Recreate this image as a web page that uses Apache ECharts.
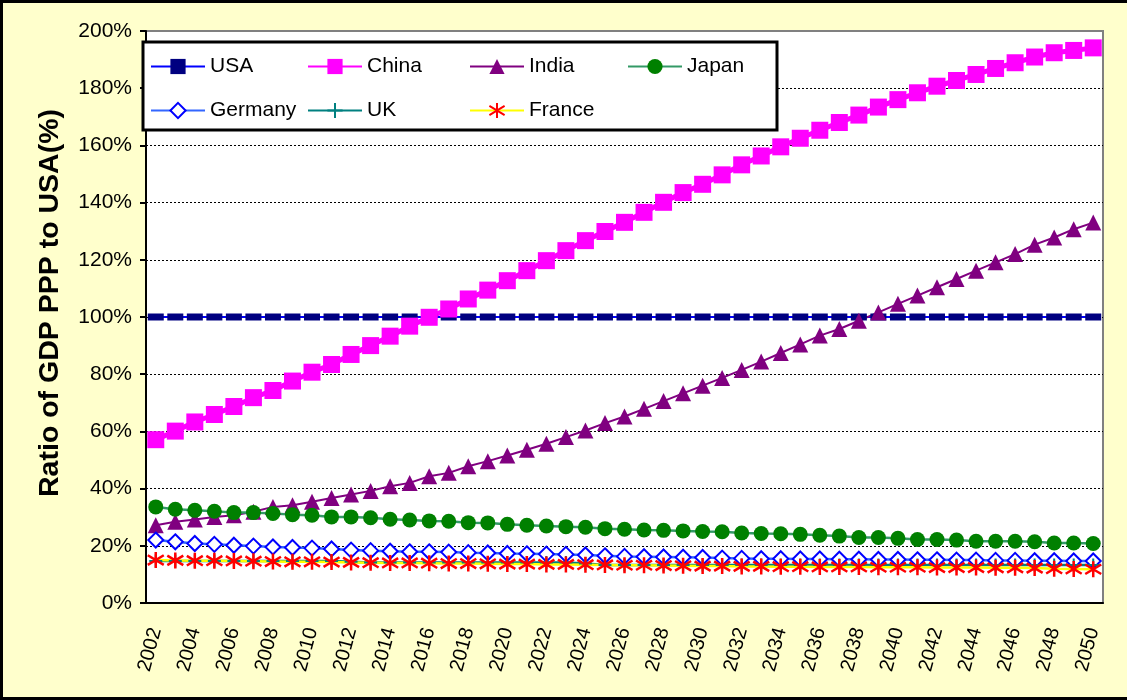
<!DOCTYPE html>
<html lang="en">
<head>
    <meta charset="UTF-8">
    <title>GDP PPP ratio to USA</title>
    <script src="https://cdn.jsdelivr.net/npm/echarts@6/dist/echarts.min.js"></script>
    <style>
        html, body { margin: 0; padding: 0; background: #FFFFCC; }
        #main { width: 1127px; height: 700px; }
    </style>
</head>
<body>
<div id="main"></div>
<script>
    // years on the x axis
    var years = ['2002', '2003', '2004', '2005', '2006', '2007', '2008', '2009', '2010', '2011',
        '2012', '2013', '2014', '2015', '2016', '2017', '2018', '2019', '2020', '2021',
        '2022', '2023', '2024', '2025', '2026', '2027', '2028', '2029', '2030', '2031',
        '2032', '2033', '2034', '2035', '2036', '2037', '2038', '2039', '2040', '2041',
        '2042', '2043', '2044', '2045', '2046', '2047', '2048', '2049', '2050'];

    // ratio to USA in %
    var usa = [100, 100, 100, 100, 100, 100, 100, 100, 100, 100,
        100, 100, 100, 100, 100, 100, 100, 100, 100, 100,
        100, 100, 100, 100, 100, 100, 100, 100, 100, 100,
        100, 100, 100, 100, 100, 100, 100, 100, 100, 100,
        100, 100, 100, 100, 100, 100, 100, 100, 100];
    var china = [57.1, 60.1, 63.3, 65.9, 68.7, 71.8, 74.3, 77.6, 80.7, 83.4,
        86.9, 90.0, 93.3, 96.8, 99.9, 102.8, 106.3, 109.4, 112.7, 116.2,
        119.7, 123.2, 126.7, 129.9, 133.1, 136.6, 140.1, 143.5, 146.4, 149.7,
        153.2, 156.3, 159.5, 162.5, 165.3, 168.0, 170.6, 173.4, 176.0, 178.4,
        180.7, 182.7, 184.8, 186.9, 188.9, 190.9, 192.4, 193.2, 194.1];
    var india = [27.2, 28.4, 29.2, 30.1, 30.7, 31.9, 33.6, 34.2, 35.4, 36.7,
        37.9, 39.2, 40.8, 42.0, 44.3, 45.5, 47.8, 49.6, 51.6, 53.6,
        55.7, 58.0, 60.3, 62.9, 65.2, 67.9, 70.6, 73.3, 76.0, 78.7,
        81.5, 84.4, 87.4, 90.4, 93.5, 95.8, 98.7, 101.6, 104.6, 107.5,
        110.4, 113.3, 116.2, 119.1, 122.0, 125.3, 127.8, 130.7, 133.0];
    var japan = [33.6, 32.8, 32.4, 32.1, 31.6, 31.6, 31.3, 30.9, 30.7, 30.1,
        30.1, 29.8, 29.3, 29.0, 28.7, 28.6, 28.1, 28.0, 27.5, 27.2,
        26.9, 26.7, 26.5, 26.0, 25.8, 25.5, 25.4, 25.2, 25.0, 24.9,
        24.5, 24.3, 24.2, 24.0, 23.7, 23.4, 22.9, 22.9, 22.6, 22.2,
        22.2, 22.0, 21.6, 21.6, 21.6, 21.4, 21.0, 21.0, 20.8];
    var germany = [22.0, 21.4, 20.8, 20.5, 20.2, 19.9, 19.6, 19.4, 19.2, 18.9,
        18.5, 18.3, 18.1, 17.9, 17.9, 17.8, 17.6, 17.5, 17.3, 17.2,
        17.1, 17.0, 16.8, 16.5, 16.3, 16.2, 16.1, 16.0, 15.9, 15.7,
        15.6, 15.5, 15.5, 15.4, 15.4, 15.3, 15.3, 15.2, 15.2, 15.1,
        15.1, 15.0, 15.0, 14.9, 14.9, 14.8, 14.8, 14.7, 14.7];
    var uk = [14.7, 14.7, 14.7, 14.7, 14.7, 14.7, 14.7, 14.7, 14.7, 14.7,
        14.4, 14.2, 14.2, 14.2, 14.2, 14.2, 14.2, 14.2, 14.2, 14.2,
        14.2, 14.2, 13.8, 13.3, 13.3, 13.3, 13.3, 13.3, 13.3, 13.3,
        13.3, 13.3, 13.3, 13.3, 13.3, 13.3, 13.3, 13.3, 13.3, 13.3,
        13.3, 13.3, 13.3, 13.3, 13.3, 13.3, 13.3, 13.3, 13.3];
    var france = [15.0, 14.9, 14.8, 14.8, 14.7, 14.6, 14.5, 14.4, 14.4, 14.3,
        14.2, 14.1, 14.0, 14.0, 13.9, 13.8, 13.8, 13.7, 13.6, 13.6,
        13.5, 13.5, 13.4, 13.3, 13.2, 13.2, 13.1, 13.0, 12.9, 12.9,
        12.8, 12.8, 12.7, 12.7, 12.6, 12.6, 12.6, 12.5, 12.5, 12.5,
        12.4, 12.4, 12.4, 12.3, 12.3, 12.2, 12.0, 11.9, 11.8];

    var font = 'Arial, "Liberation Sans", sans-serif';

    var myChart = echarts.init(document.getElementById('main'));

    function legendCol(left, names) {
        return {
            orient: 'vertical',
            left: left,
            top: 51,
            itemWidth: 54,
            itemHeight: 19,
            itemGap: 23,
            selectedMode: false,
            data: names,
            textStyle: { fontFamily: font, fontSize: 21, color: '#000' }
        };
    }

    // dotted grid lines, but none on 0% and 200%
    var gridColors = ['rgba(0,0,0,0)', '#000', '#000', '#000', '#000', '#000',
        '#000', '#000', '#000', '#000', 'rgba(0,0,0,0)'];

    var option = {
        animation: false,
        backgroundColor: '#FFFFCC',
        grid: {
            left: 146, right: 24, top: 31, bottom: 97,
            show: true,
            backgroundColor: '#FFFFFF',
            borderColor: '#808080',
            borderWidth: 2
        },
        graphic: [
            {
                type: 'rect',
                z: 3,
                shape: { x: 143, y: 42, width: 634, height: 88 },
                style: { fill: '#FFFFFF', stroke: '#000', lineWidth: 3 }
            },
            {
                type: 'rect',
                z: 10,
                shape: { x: 1.5, y: 1.5, width: 1135, height: 697 },
                style: { fill: 'none', stroke: '#000', lineWidth: 3 }
            }
        ],
        legend: [
            legendCol(145, ['USA', 'Germany']),
            legendCol(302, ['China', 'UK']),
            legendCol(464, ['India', 'France']),
            legendCol(622, ['Japan'])
        ],
        xAxis: {
            type: 'category',
            data: years,
            boundaryGap: true,
            axisLine: { lineStyle: { color: '#000', width: 2 } },
            axisTick: { interval: 0, length: 6, lineStyle: { color: '#000', width: 2 } },
            axisLabel: {
                interval: 1,
                rotate: 75,
                margin: 25,
                fontFamily: font,
                fontSize: 20,
                color: '#000'
            },
            splitLine: { show: false }
        },
        yAxis: {
            type: 'value',
            min: 0,
            max: 200,
            interval: 20,
            name: 'Ratio of GDP PPP to USA(%)',
            nameLocation: 'middle',
            nameGap: 81,
            nameTextStyle: {
                fontFamily: font, fontSize: 28.5, fontWeight: 'bold', color: '#000',
                padding: [0, 0, 0, 28]
            },
            axisLine: { show: true, lineStyle: { color: '#000', width: 2 } },
            axisTick: { show: true, length: 6, lineStyle: { color: '#000', width: 2 } },
            axisLabel: {
                formatter: '{value}%',
                margin: 14,
                fontFamily: font,
                fontSize: 21,
                color: '#000'
            },
            splitLine: {
                show: true,
                lineStyle: { color: gridColors, width: 1, type: [2, 2] }
            }
        },
        series: [
            {
                name: 'USA', type: 'line', data: usa,
                symbol: 'rect', symbolSize: [16, 7], showAllSymbol: true,
                itemStyle: { color: '#000080' },
                lineStyle: { color: '#0000FF', width: 2 }
            },
            {
                name: 'China', type: 'line', data: china,
                symbol: 'rect', symbolSize: 17, showAllSymbol: true,
                itemStyle: { color: '#FF00FF' },
                lineStyle: { color: '#FF00FF', width: 5 }
            },
            {
                name: 'India', type: 'line', data: india,
                symbol: 'triangle', symbolSize: 16, showAllSymbol: true,
                itemStyle: { color: '#800080' },
                lineStyle: { color: '#800080', width: 2 }
            },
            {
                name: 'Japan', type: 'line', data: japan,
                symbol: 'circle', symbolSize: 15, showAllSymbol: true,
                itemStyle: { color: '#008000' },
                lineStyle: { color: '#339966', width: 2.5 }
            },
            {
                name: 'Germany', type: 'line', data: germany,
                symbol: 'emptyDiamond', symbolSize: 15, showAllSymbol: true,
                itemStyle: { color: '#0000FF', borderWidth: 2 },
                lineStyle: { color: '#3366FF', width: 2.5 }
            },
            {
                name: 'UK', type: 'line', data: uk,
                symbol: 'path://M5,0L5,10M0,5L10,5', symbolSize: 13, showAllSymbol: true,
                itemStyle: { color: '#008080', borderColor: '#008080', borderWidth: 2 },
                lineStyle: { color: '#008080', width: 2.5 }
            },
            {
                name: 'France', type: 'line', data: france,
                symbol: 'path://M5,0L5,10M0,2L10,8M0,8L10,2', symbolSize: 16, showAllSymbol: true,
                itemStyle: { color: '#FF0000', borderColor: '#FF0000', borderWidth: 2.5 },
                lineStyle: { color: '#FFFF00', width: 2.5 }
            }
        ]
    };

    myChart.setOption(option);
</script>
</body>
</html>
